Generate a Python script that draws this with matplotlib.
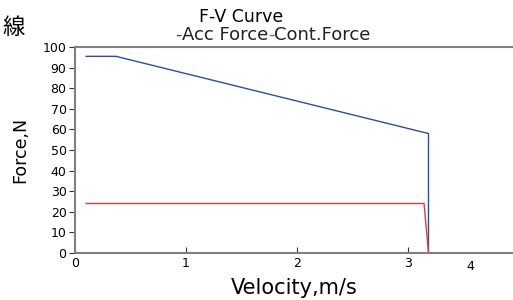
import matplotlib.pyplot as plt

# F-V curve data
acc_v = [0.1, 0.37, 3.18, 3.18]
acc_f = [95.5, 95.5, 58.0, 0.0]
cont_v = [0.1, 3.14, 3.18]
cont_f = [24.0, 24.0, 0.0]

yticks = list(range(0, 101, 10))
xticks = [0, 1, 2, 3]

blue = '#2a4f9f'
red = '#e03c3c'
grey = '#808080'

plt.rcParams['font.family'] = ['DejaVu Sans', 'Noto Sans CJK JP']

fig = plt.figure(figsize=(5.13, 3.0), dpi=100)
ax = fig.add_axes([0.146, 0.157, 0.854, 0.686])

ax.plot(acc_v, acc_f, color=blue, lw=1)
ax.plot(cont_v, cont_f, color=red, lw=1)

ax.set_xlim(0, 3.94)
ax.set_ylim(0, 100)
ax.set_yticks(yticks)
ax.set_xticks(xticks)
ax.tick_params(axis='y', direction='out', length=4, labelsize=9, color='#333333', pad=2)
ax.tick_params(axis='x', direction='in', length=4, labelsize=9, color='#333333', pad=3)
ax.text(3.56, -3.5, '4', ha='center', va='top', fontsize=9)

ax.spines['right'].set_visible(False)
for s in ['left', 'bottom', 'top']:
    ax.spines[s].set_color(grey)
    ax.spines[s].set_linewidth(1.5)

ax.set_xlabel('Velocity,m/s', fontsize=15, labelpad=6)
ax.set_ylabel('Force,N', fontsize=12.5, labelpad=10)

fig.text(0.47, 0.945, 'F-V Curve', ha='center', va='center', fontsize=12.5)

# legend line: coloured dashes, pieces placed one after another
renderer = fig.canvas.get_renderer()
pieces = [('-', blue), ('Acc Force', '#222222'), ('-', red), ('Cont.Force', '#222222')]
x = 175.0
for txt, col in pieces:
    t = fig.text(x / 513, 0.885, txt, color=col, ha='left', va='center', fontsize=13)
    x += t.get_window_extent(renderer).width

fig.text(0.005, 0.91, '線', ha='left', va='center', fontsize=16,
         family=['Noto Sans CJK JP', 'DejaVu Sans'])

fig.savefig('out.png', dpi=100)
